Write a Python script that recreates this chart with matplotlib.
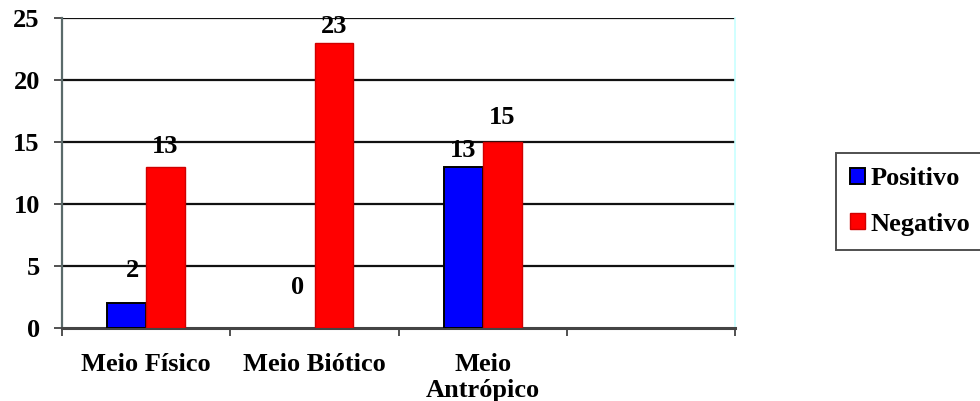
import numpy as np
import matplotlib.pyplot as plt

categorias = ['Meio Físico', 'Meio Biótico', 'Meio\nAntrópico', '']
positivo = [2, 0, 13]
negativo = [13, 23, 15]
yticks = [0, 5, 10, 15, 20, 25]

# label offsets in points (dx, dy) from the bar top to the label centre
off_pos = [(4.3, 23.8), (1.5, 29.5), (0, 11.5)]
off_neg = [(0, 14.4), (0, 11.5), (0, 18)]

plt.rcParams['font.family'] = ['Liberation Serif', 'DejaVu Serif']
plt.rcParams['font.weight'] = 'bold'
fs = 19

fig = plt.figure(figsize=(9.8, 4.01), dpi=100)
ax = fig.add_axes([0.0633, 0.182, 0.687, 0.773])

x = np.arange(len(positivo))
w = 0.23

for y in yticks[1:]:
    ax.axhline(y, color='#111111', lw=1.6, zorder=1)

b1 = ax.bar(x - w / 2, positivo, w, color='#0000ff', edgecolor='black',
            linewidth=1.4, label='Positivo', zorder=3)
b2 = ax.bar(x + w / 2, negativo, w, color='#ff0000', edgecolor='#d00000',
            linewidth=1.0, label='Negativo', zorder=3)

# no outline on empty bars
for r in list(b1) + list(b2):
    if r.get_height() == 0:
        r.set_linewidth(0)

for xi, v, o in zip(x - w / 2, positivo, off_pos):
    ax.annotate(str(v), (xi, v), xytext=o, textcoords='offset points',
                ha='center', va='center', fontsize=fs, fontweight='bold',
                zorder=4)
for xi, v, o in zip(x + w / 2, negativo, off_neg):
    ax.annotate(str(v), (xi, v), xytext=o, textcoords='offset points',
                ha='center', va='center', fontsize=fs, fontweight='bold',
                zorder=4)

ax.set_xlim(-0.5, 3.5)
ax.set_ylim(0, 25)
ax.set_yticks(yticks)
ax.set_yticklabels([str(t) for t in yticks], fontsize=fs, fontweight='bold')
ax.set_xticks(np.arange(-0.5, 4, 1))
ax.set_xticklabels([])
ax.set_xticks(np.arange(len(categorias)), minor=True)
ax.set_xticklabels(categorias, minor=True, fontsize=fs, fontweight='bold',
                   linespacing=1.15)
ax.tick_params(axis='x', which='minor', length=0, pad=18)
ax.tick_params(axis='x', which='major', length=6, width=1.2, color='#333333')
ax.tick_params(axis='y', length=6, width=1.2, color='#333333', pad=10)

ax.spines['top'].set_visible(False)
ax.spines['left'].set_color('#5a6a6a')
ax.spines['left'].set_linewidth(1.6)
ax.spines['right'].set_color('#c8ffff')
ax.spines['right'].set_linewidth(1.2)
ax.spines['bottom'].set_color('#444444')
ax.spines['bottom'].set_linewidth(2.2)

leg = fig.legend(handles=[b1, b2], loc='center left',
                 bbox_to_anchor=(0.853, 0.4975), borderaxespad=0,
                 frameon=True, fancybox=False, handlelength=0.55,
                 handleheight=0.55, handletextpad=0.2, labelspacing=0.85,
                 borderpad=0.55, prop={'weight': 'bold', 'size': fs})
leg.get_frame().set_edgecolor('#222222')
leg.get_frame().set_linewidth(1.4)

fig.savefig('out.png', dpi=100)
